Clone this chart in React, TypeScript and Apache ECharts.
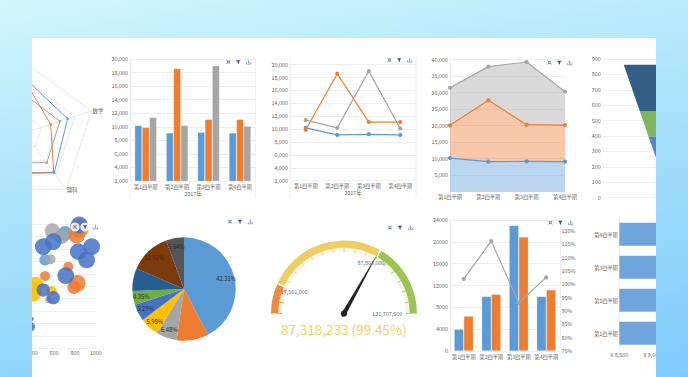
import React, { useEffect, useRef } from "react";
import * as echarts from "echarts";

const BLUE = "#5b9bd5", ORANGE = "#ed7d31", GRAY = "#a5a5a5", YELLOW = "#ffc000", ROYAL = "#4472c4", GREEN = "#70ad47";
const FONT = "'Noto Sans CJK JP', 'Noto Sans', sans-serif";
const LABEL = "#646464";
const LINE = "#eeeeee";
const FS = 5.4;
const CFS = 5.2;

const quarters = ["第1四半期", "第2四半期", "第3四半期", "第4四半期"];
const salesA = [10200, 9100, 9200, 9100];
const salesB = [9900, 18600, 11100, 11100];
const salesC = [11400, 10200, 19000, 10100];
const combA = [4000, 10000, 23000, 10000];
const combB = [6400, 10400, 20900, 11200];
const combRate = [102, 116.2, 93.1, 102.6];

// radar axes run counter-clockwise from the top
const radarNames = ["", "", "", "理科", "数学"];
const radarA = [77.6, 70, 73, 71, 64];
const radarB = [74, 40, 72, 70, 38.5];
const radarC = [54, 50, 53, 53, 52.5];

const funnelSteps = [863, 562, 396, 270, 0];
const funnelColors = ["#335f87", "#7fb55b", "#5b7fcc", YELLOW];

const bubblesLight = [[705, 925, 14.7], [512, 711, 11.3]];
const bubblesOrange = [[817, 912, 16.7], [842, 965, 19], [737, 657, 10], [513, 582, 10], [823, 524, 16.7], [791, 492, 13.3]];
const bubblesGray = [[583, 944, 15.3], [673, 898, 14.7], [567, 716, 10], [544, 390, 6.7]];
const bubblesYellow = [[416, 510, 16.7], [390, 451, 18.7], [577, 462, 10]];
const bubblesRoyal = [[496, 818, 16.7], [592, 858, 16.7], [833, 778, 16.7], [961, 818, 16.7], [913, 711, 16.7], [712, 585, 16.7], [496, 470, 13.3], [592, 408, 13.3], [368, 175, 10], [390, 237, 3.3], [842, 992, 17]];

const pieValues = [42.31, 10, 6.48, 5.98, 5.29, 4.35, 7.04, 12.91, 5.64];
const pieColors = [BLUE, ORANGE, GRAY, YELLOW, ROYAL, GREEN, "#255e91", "#7b3b0d", "#555555"];
const pieHidden = [1, 6];

const gaugeValue = 87318233;
const gaugeRate = "99.45%";
const gaugeStops = [17561000, 87800000, 131707500];

const hbarValues = [10200, 9100, 9200, 9100];

const iconSets = [[228.3, 62], [389.3, 60], [549.3, 62.7], [75, 227], [230, 221.7], [390, 227.7], [550.3, 222.7]];

echarts.graphic.registerShape("iconFocus", echarts.graphic.extendPath("M1 1L3.2 3.2M9 1L6.8 3.2M1 9L3.2 6.8M9 9L6.8 6.8M3 3H7V7H3Z", {}));
echarts.graphic.registerShape("iconFilter", echarts.graphic.extendPath("M0 1H10L6.3 5.2V9.5L3.7 8V5.2Z", {}));
echarts.graphic.registerShape("iconSave", echarts.graphic.extendPath("M5 0V6.5M2.8 4.4L5 6.6L7.2 4.4M0.3 6V9.5H9.7V6", {}));

const fmt = (v: number) => v.toLocaleString("en-US");

function catAxis(gridIndex: number, extra: any = {}) {
  return {
    type: "category", gridIndex, data: quarters,
    axisLine: { lineStyle: { color: LINE } }, axisTick: { show: false },
    axisLabel: { fontSize: CFS, color: LABEL, fontFamily: FONT, margin: 2.5, interval: 0 },
    ...extra,
  };
}
function valAxis(gridIndex: number, min: number, max: number, interval: number, extra: any = {}) {
  return {
    type: "value", gridIndex, min, max, interval,
    axisLine: { show: true, lineStyle: { color: LINE } }, axisTick: { show: false },
    axisLabel: { fontSize: FS, color: LABEL, fontFamily: FONT, margin: 2, formatter: (v: number) => fmt(v) },
    splitLine: { lineStyle: { color: LINE } },
    ...extra,
  };
}
const barS = (name: string, data: number[], color: string, x: number, y: number) => ({
  type: "bar", name, data, xAxisIndex: x, yAxisIndex: y, barGap: 0, barCategoryGap: "30%",
  itemStyle: { color, borderColor: "rgba(255,255,255,0.35)", borderWidth: 0.6 },
});
const lineS = (name: string, data: number[], color: string, x: number, y: number, extra: any = {}) => ({
  type: "line", name, data, xAxisIndex: x, yAxisIndex: y, symbol: "circle", symbolSize: 4.2,
  lineStyle: { color, width: 1.2 }, itemStyle: { color }, ...extra,
});
const bubbleS = (data: number[][], color: string, opacity: number) => ({
  type: "scatter", data, xAxisIndex: 4, yAxisIndex: 4, clip: true,
  symbolSize: (d: number[]) => d[2], itemStyle: { color, opacity },
});
const vline = (x: number, y1: number, y2: number) => ({
  type: "line", z: 1, shape: { x1: x, y1, x2: x, y2 }, style: { stroke: LINE, lineWidth: 1 },
});
const gridBox = (left: number, top: number, width: number, height: number) => ({ left, top, width, height, outerBoundsMode: "none" });

export default function App() {
  const ref = useRef<HTMLDivElement>(null);
  useEffect(() => {
    const chart = echarts.init(ref.current!, undefined, { renderer: "svg" });
    const max = gaugeStops[2];
    const s1 = gaugeStops[0] / max, s2 = gaugeStops[1] / max;
    const tint = [[s1, "#ed7d31"], [s2, "#efcb5f"], [1, "#9bc250"]];
    const band = [[s1 - 0.003, "#ef8a3c"], [s1 + 0.004, "#ffffff"], [s2 - 0.003, "#efcd62"], [s2 + 0.004, "#ffffff"], [1, "#9cc353"]];

    const graphic: any[] = [
      vline(130, 181, 198), vline(255.7, 59, 198),
      vline(290, 57, 198), vline(416, 57, 198),
      { type: "text", z: 5, x: 294.3, y: 292, style: { text: fmt(gaugeStops[0]), fontSize: FS, fill: LABEL, fontFamily: FONT, align: "center", verticalAlign: "middle" } },
      { type: "text", z: 5, x: 371, y: 263.3, style: { text: fmt(gaugeStops[1]), fontSize: FS, fill: LABEL, fontFamily: FONT, align: "center", verticalAlign: "middle" } },
      { type: "text", z: 5, x: 387.3, y: 313.7, style: { text: fmt(gaugeStops[2]), fontSize: FS, fill: LABEL, fontFamily: FONT, align: "center", verticalAlign: "middle" } },
    ];
    iconSets.forEach(([x, y], i) => {
      if (i === 3) {
        [0, 10, 20].forEach((d) => graphic.push({ type: "circle", z: 10, shape: { cx: x + d, cy: y, r: 4.6 }, style: { fill: "rgba(255,255,255,0.85)" } }));
      }
      const s = 0.46;
      graphic.push({ type: "iconFocus", z: 11, x: x - 2.3, y: y - 2.3, scaleX: s, scaleY: s, style: { fill: "none", stroke: "#3d5a8c", lineWidth: 1.4 } });
      graphic.push({ type: "iconFilter", z: 11, x: x + 10 - 2.3, y: y - 2.3, scaleX: s, scaleY: s, style: { fill: "#2f4d7c", stroke: "none" } });
      graphic.push({ type: "iconSave", z: 11, x: x + 20.4 - 2.3, y: y - 2.3, scaleX: s, scaleY: s, style: { fill: "none", stroke: "#4a6ea5", lineWidth: 1.3 } });
    });

    chart.setOption({
      animation: false,
      textStyle: { fontFamily: FONT },
      radar: {
        center: [25, 132.6], radius: 70, splitNumber: 4, shape: "polygon",
        indicator: radarNames.map((name) => ({ name, max: 100 })),
        axisName: { color: LABEL, fontSize: FS, fontFamily: FONT },
        nameGap: 1,
        splitLine: { lineStyle: { color: "#e9e9e9" } },
        splitArea: { show: false },
        axisLine: { lineStyle: { color: "#e9e9e9" } },
      },
      grid: [
        gridBox(130, 59, 125.7, 122),
        gridBox(290, 64.7, 126, 116),
        gridBox(450, 59.7, 115, 132),
        gridBox(602.7, 59, 134, 138.7),
        gridBox(-8.3, 224, 104, 124.5),
        gridBox(450, 220, 110, 131),
        gridBox(619.3, 217.8, 132, 132),
      ],
      xAxis: [
        catAxis(0, { name: "2017年", nameLocation: "middle", nameGap: 10, nameTextStyle: { fontSize: FS, color: LABEL, fontFamily: FONT } }),
        catAxis(1, { name: "2017年", nameLocation: "middle", nameGap: 9.5, nameTextStyle: { fontSize: FS, color: LABEL, fontFamily: FONT } }),
        catAxis(2, { boundaryGap: false }),
        { type: "value", gridIndex: 3, min: -1257, max: 1257, show: false },
        { type: "value", gridIndex: 4, min: 0, max: 1000, interval: 200, axisLine: { show: false }, axisTick: { show: false }, splitLine: { show: false },
          axisLabel: { fontSize: FS, color: LABEL, fontFamily: FONT, margin: 1.5, formatter: (v: number) => (v < 400 ? "" : String(v)) } },
        catAxis(5),
        { type: "value", gridIndex: 6, min: 8500, max: 10500, interval: 500, axisLine: { show: false }, axisTick: { show: false }, splitLine: { show: false },
          axisLabel: { fontSize: FS, color: LABEL, fontFamily: FONT, margin: 2.5, formatter: (v: number) => (v > 9000 ? "" : "¥ " + fmt(v)) } },
      ],
      yAxis: [
        valAxis(0, 2000, 20000, 2000),
        valAxis(1, 2000, 20000, 2000),
        valAxis(2, 0, 40000, 5000, { axisLabel: { fontSize: FS, color: LABEL, fontFamily: FONT, margin: 2, showMinLabel: false, formatter: (v: number) => fmt(v) } }),
        valAxis(3, 0, 900, 100),
        { type: "value", gridIndex: 4, min: 0, max: 1000, interval: 100, axisLine: { show: false }, axisTick: { show: false }, axisLabel: { show: false }, splitLine: { lineStyle: { color: LINE } } },
        valAxis(5, 0, 24000, 4000, { axisLabel: { fontSize: FS, color: LABEL, fontFamily: FONT, margin: 2, formatter: (v: number) => String(v) } }),
        { type: "value", gridIndex: 5, position: "right", min: 75, max: 124.1, interval: 5, axisLine: { show: true, lineStyle: { color: LINE } }, axisTick: { show: false }, splitLine: { show: false },
          axisLabel: { fontSize: FS, color: LABEL, fontFamily: FONT, margin: 1.5, showMaxLabel: false, formatter: (v: number) => v + "%" } },
        { type: "category", gridIndex: 6, data: quarters, axisLine: { lineStyle: { color: LINE } }, axisTick: { show: false },
          axisLabel: { fontSize: CFS, color: LABEL, fontFamily: FONT, margin: 1.5 } },
      ],
      series: [
        { type: "radar", symbol: "circle", symbolSize: 2.6, data: [
          { value: radarC, lineStyle: { color: GRAY, width: 1 }, itemStyle: { color: GRAY } },
          { value: radarB, lineStyle: { color: ORANGE, width: 1 }, itemStyle: { color: ORANGE } },
          { value: radarA, lineStyle: { color: BLUE, width: 1 }, itemStyle: { color: BLUE } },
        ] },
        barS("A", salesA, BLUE, 0, 0), barS("B", salesB, ORANGE, 0, 0), barS("C", salesC, GRAY, 0, 0),
        lineS("A", salesA, BLUE, 1, 1), lineS("B", salesB, ORANGE, 1, 1), lineS("C", salesC, GRAY, 1, 1),
        lineS("A", salesA, BLUE, 2, 2, { stack: "s", areaStyle: { color: BLUE, opacity: 0.42 } }),
        lineS("B", salesB, ORANGE, 2, 2, { stack: "s", areaStyle: { color: ORANGE, opacity: 0.42 } }),
        lineS("C", salesC, GRAY, 2, 2, { stack: "s", areaStyle: { color: GRAY, opacity: 0.42 } }),
        {
          type: "custom", xAxisIndex: 3, yAxisIndex: 3, clip: false,
          data: funnelColors.map((_, i) => [funnelSteps[i], funnelSteps[i + 1], i]),
          encode: { x: 0, y: [0, 1] },
          renderItem: (_p: any, api: any) => {
            const top = api.value(0), bot = api.value(1);
            const pts = [api.coord([-top, top]), api.coord([top, top]), api.coord([bot, bot]), api.coord([-bot, bot])];
            return { type: "polygon", shape: { points: pts }, style: { fill: funnelColors[api.value(2)] } };
          },
        },
        bubbleS(bubblesLight, BLUE, 0.85),
        bubbleS(bubblesOrange, ORANGE, 0.85),
        bubbleS(bubblesGray, GRAY, 0.8),
        bubbleS(bubblesYellow, YELLOW, 0.9),
        bubbleS(bubblesRoyal, ROYAL, 0.85),
        {
          type: "pie", center: [184, 289], radius: 51.7, label: { show: false }, labelLine: { show: false },
          itemStyle: { borderWidth: 0 },
          data: pieValues.map((value, i) => ({ value, itemStyle: { color: pieColors[i], borderWidth: 0 } })),
        },
        {
          type: "pie", center: [184, 289], radius: [29, 51.7], silent: true, itemStyle: { color: "rgba(0,0,0,0)", borderWidth: 0 },
          data: pieValues.map((value, i) => ({
            value,
            label: { show: !pieHidden.includes(i), position: "inside", formatter: value.toFixed(2) + "%", fontSize: 5.8, color: "#2b2b2b", fontFamily: FONT },
          })),
        },
        {
          type: "gauge", center: [344, 313.5], radius: 65.7, startAngle: 180, endAngle: 0, min: 0, max,
          splitNumber: 18,
          axisLine: { lineStyle: { width: 4, color: tint, opacity: 0.14 } },
          axisTick: { show: false },
          splitLine: { length: 4, distance: -4, lineStyle: { color: "auto", width: 0.9, opacity: 0.9 } },
          axisLabel: { show: false }, pointer: { show: false }, anchor: { show: false }, title: { show: false }, detail: { show: false },
          data: [{ value: gaugeValue }],
        },
        {
          type: "gauge", center: [344, 313.5], radius: 73, startAngle: 180, endAngle: 0, min: 0, max,
          axisLine: { lineStyle: { width: 7.3, color: band } },
          axisTick: { show: false }, splitLine: { show: false }, axisLabel: { show: false }, title: { show: false },
          pointer: { length: "96%", width: 2.2, itemStyle: { color: "#222222" } },
          anchor: { show: true, size: 6.5, showAbove: true, itemStyle: { color: "#222222" } },
          detail: {
            offsetCenter: [0, 15.5], fontSize: 13.5, color: "#f2cf68", fontFamily: FONT, fontWeight: 400,
            formatter: (v: number) => fmt(v) + " (" + gaugeRate + ")",
          },
          data: [{ value: gaugeValue }],
        },
        barS("A", combA, BLUE, 5, 5), barS("B", combB, ORANGE, 5, 5),
        lineS("R", combRate, GRAY, 5, 6),
        { type: "bar", data: hbarValues, xAxisIndex: 6, yAxisIndex: 7, barCategoryGap: "30%", itemStyle: { color: "#6fa5db" } },
      ],
      graphic,
    });
    return () => chart.dispose();
  }, []);
  return (
    <div style={{ position: "fixed", left: 0, top: 0, width: 688, height: 377, overflow: "hidden", background: "linear-gradient(170deg, #d0f6fa 0%, #a9e2fb 45%, #7ecbfb 100%)" }}>
      <div style={{ position: "absolute", left: 32, top: 38, width: 624, height: 339, background: "#ffffff", overflow: "hidden" }}>
        <div ref={ref} style={{ position: "absolute", left: -32, top: -38, width: 688, height: 377 }} />
      </div>
    </div>
  );
}
